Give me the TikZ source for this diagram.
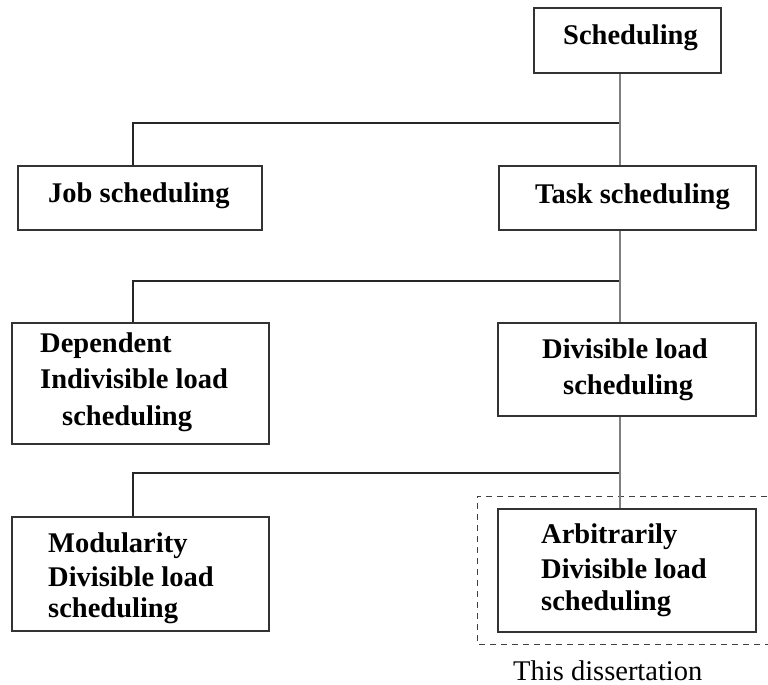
\documentclass[tikz,border=0pt]{standalone}
\usepackage{fontspec}
\setmainfont{Liberation Serif}
\begin{document}
\begin{tikzpicture}[x=1pt,y=-1pt,
  box/.style={draw=black!80,line width=1.1pt,rectangle,inner sep=0pt},
  lbl/.style={anchor=base west,inner sep=0pt,font=\fontsize{28.5}{34}\selectfont\bfseries},
  plain/.style={anchor=base west,inner sep=0pt,font=\fontsize{28.5}{34}\selectfont},
  trunk/.style={draw=black!50,line width=2pt},
  branch/.style={draw=black!85,line width=1.1pt},
  dashbox/.style={draw=black!75,line width=0.9pt,dash pattern=on 6pt off 5pt}]
\useasboundingbox (0,0) rectangle (768,685);
\begin{scope}
\clip (0,0) rectangle (768,685);
\draw[dashbox] (800,496) -- (477,496) -- (477,644) -- (800,644);
\end{scope}
% boxes
\node[box,minimum width=187pt,minimum height=65pt] (sched) at (627.5,40.5) {};
\node[box,minimum width=257pt,minimum height=64pt] (task) at (627.5,198) {};
\node[box,minimum width=244pt,minimum height=64pt] (job) at (140,198) {};
\node[box,minimum width=257pt,minimum height=121pt] (dep) at (140.5,383.5) {};
\node[box,minimum width=258pt,minimum height=93pt] (div) at (627,369.5) {};
\node[box,minimum width=257pt,minimum height=114pt] (mod) at (140.5,574) {};
\node[box,minimum width=258pt,minimum height=123pt] (arb) at (627,570.5) {};
% junctions
\coordinate (j1) at (620,123);
\coordinate (c1) at (133,123);
\coordinate (j2) at (620,281);
\coordinate (c2) at (133,281);
\coordinate (j3) at (620,473);
\coordinate (c3) at (133,473);
% connectors
\draw[branch] (j1) -- (c1) -- (c1 |- job.north);
\draw[branch] (j2) -- (c2) -- (c2 |- dep.north);
\draw[branch] (j3) -- (c3) -- (c3 |- mod.north);
\draw[trunk] (sched.south -| j1) -- (task.north -| j1);
\draw[trunk] (task.south -| j2) -- (div.north -| j2);
\draw[trunk] (div.south -| j3) -- (arb.north -| j3);
% texts
\node[lbl] (t1) at (563,45) {Scheduling};
\node[lbl] (t2) at (535,203) {Task scheduling};
\node[lbl] (t3) at (48,202) {Job scheduling};
\node[lbl] (t4a) at (40,352) {Dependent};
\node[lbl] (t4b) at (40,388) {Indivisible load};
\node[lbl] (t4c) at (62,425) {scheduling};
\node[lbl] (t5a) at (542,358) {Divisible load};
\node[lbl] (t5b) at (563,394) {scheduling};
\node[lbl] (t6a) at (48,552) {Modularity};
\node[lbl] (t6b) at (48,586) {Divisible load};
\node[lbl] (t6c) at (48,617) {scheduling};
\node[lbl] (t7a) at (541,543) {Arbitrarily};
\node[lbl] (t7b) at (541,578) {Divisible load};
\node[lbl] (t7c) at (541,610) {scheduling};
\node[plain] (t8) at (513,680) {This dissertation};
\end{tikzpicture}
\end{document}
